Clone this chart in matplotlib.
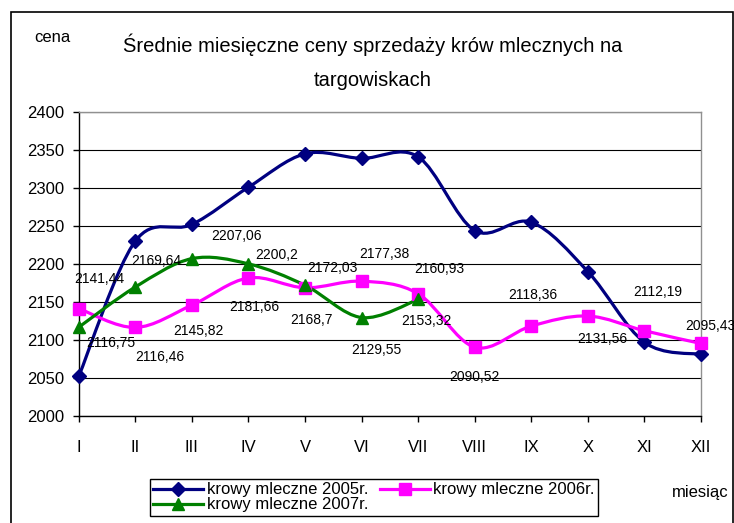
import matplotlib
matplotlib.use("Agg")
import matplotlib.pyplot as plt
import numpy as np
from matplotlib.path import Path
from matplotlib.patches import PathPatch, Rectangle
from matplotlib.lines import Line2D

plt.rcParams['font.family'] = ['Liberation Sans', 'DejaVu Sans']

months = ['I', 'II', 'III', 'IV', 'V', 'VI', 'VII', 'VIII', 'IX', 'X', 'XI', 'XII']
# 2005 - no labels on the chart
cows_2005 = [2052, 2230, 2252, 2301, 2345, 2339, 2341, 2244, 2255, 2190, 2097, 2081]
cows_2006 = [2141.44, 2116.46, 2145.82, 2181.66, 2168.7, 2177.38, 2160.93,
             2090.52, 2118.36, 2131.56, 2112.19, 2095.43]
cows_2007 = [2116.75, 2169.64, 2207.06, 2200.2, 2172.03, 2129.55, 2153.32]

# label offsets from point, in pixels (right, down)
offs_2006 = [(21, -30), (25, 30), (7, 26), (6, 29), (7, 32), (23, -27), (21, -25),
             (0, 30), (2, -31), (14, 23), (13, -39), (9, -17)]
offs_2007 = [(32, 16), (21, -26), (45, -23), (28, -9), (27, -17), (15, 32), (8, 22)]

DPI = 100
PX = 72.0 / DPI


def smooth_path(xs, ys):
    # excel-like smoothed line (catmull-rom as cubic bezier)
    pts = np.column_stack([xs, ys]).astype(float)
    n = len(pts)
    verts = [pts[0]]
    codes = [Path.MOVETO]
    for i in range(n - 1):
        p0 = pts[max(i - 1, 0)]
        p1 = pts[i]
        p2 = pts[i + 1]
        p3 = pts[min(i + 2, n - 1)]
        verts += [p1 + (p2 - p0) / 6, p2 - (p3 - p1) / 6, p2]
        codes += [Path.CURVE4] * 3
    return Path(verts, codes)


def fmt(v):
    return ('%g' % v).replace('.', ',')


fig = plt.figure(figsize=(7.34, 5.23), dpi=DPI)
ax = fig.add_axes([78.7 / 734, 1 - 416 / 523, (701 - 78.7) / 734, (416 - 112) / 523])

series = [
    (cows_2005, '#000080', 'D', 7.5, 'krowy mleczne 2005r.'),
    (cows_2006, '#FF00FF', 's', 8, 'krowy mleczne 2006r.'),
    (cows_2007, '#008000', '^', 9, 'krowy mleczne 2007r.'),
]
handles = {}
for vals, col, mk, ms, lab in series:
    x = np.arange(len(vals))
    ax.add_patch(PathPatch(smooth_path(x, vals), facecolor='none', edgecolor=col,
                           lw=2.3, zorder=3, clip_on=False))
    ax.plot(x, vals, ls='none', marker=mk, ms=ms, color=col, zorder=4, clip_on=False)
    handles[lab] = Line2D([], [], color=col, lw=2.3, marker=mk, ms=ms)

for vals, offs in [(cows_2006, offs_2006), (cows_2007, offs_2007)]:
    for i, (v, (dx, dy)) in enumerate(zip(vals, offs)):
        ax.annotate(fmt(v), (i, v), xytext=(dx * PX, -dy * PX), textcoords='offset points',
                    ha='center', va='center', fontsize=10, annotation_clip=False, zorder=5)

ax.set_xlim(0, 11)
ax.set_ylim(2000, 2400)
ax.set_xticks(range(12))
ax.set_xticklabels(months)
ax.set_yticks(range(2000, 2401, 50))
ax.tick_params(axis='y', direction='out', length=4.5, width=1, labelsize=12, pad=6)
ax.tick_params(axis='x', direction='out', length=4.5, width=1, labelsize=12, pad=13)
ax.yaxis.grid(True, color='black', lw=0.8)
ax.set_axisbelow(True)
for s in ['top', 'right']:
    ax.spines[s].set_color('#909090')
for s in ['left', 'bottom']:
    ax.spines[s].set_color('black')
for s in ax.spines.values():
    s.set_linewidth(1)

fig.text(373 / 734, 1 - 45 / 523, 'Średnie miesięczne ceny sprzedaży krów mlecznych na',
         ha='center', va='center', fontsize=14.5)
fig.text(373 / 734, 1 - 80 / 523, 'targowiskach', ha='center', va='center', fontsize=14.5)
fig.text(52 / 734, 1 - 38 / 523, 'cena', ha='center', va='center', fontsize=12)
fig.text(672 / 734, 1 - 493 / 523, 'miesiąc', ha='left', va='center', fontsize=12)

order = ['krowy mleczne 2005r.', 'krowy mleczne 2007r.', 'krowy mleczne 2006r.']
leg = fig.legend([handles[k] for k in order], order, ncol=2, loc='upper left',
                 bbox_to_anchor=(150 / 734, 1 - 479 / 523), fontsize=12,
                 frameon=True, fancybox=False, edgecolor='black', framealpha=1,
                 handlelength=3.0, handletextpad=0.2, columnspacing=0.7,
                 borderpad=0.2, labelspacing=0.0, borderaxespad=0)
leg.get_frame().set_linewidth(1)

fig.add_artist(Rectangle((11 / 734, -0.02), (733 - 11) / 734, 1 - 12 / 523 + 0.02,
                         transform=fig.transFigure, fill=False, ec='black', lw=1.2))

fig.savefig('out.png', dpi=DPI)
